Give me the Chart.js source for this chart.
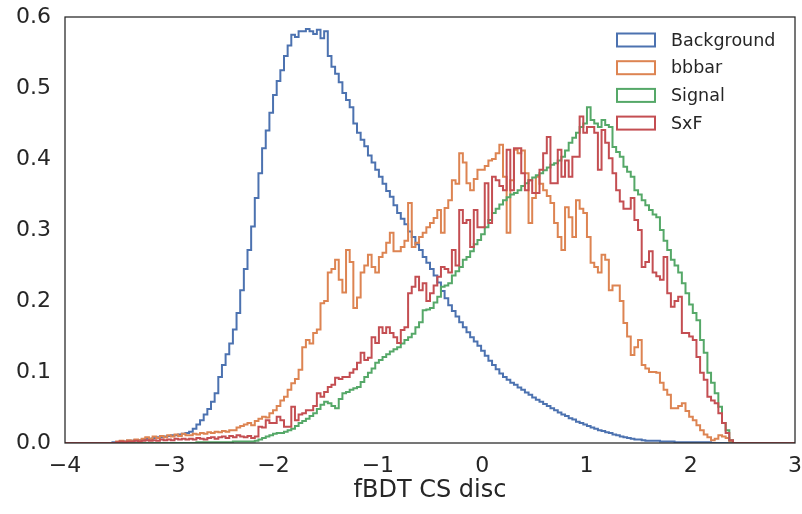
<!DOCTYPE html>
<html><head><meta charset="utf-8">
<script src="https://cdn.jsdelivr.net/npm/chart.js@4.4.0/dist/chart.umd.min.js"></script>
<style>html,body{margin:0;padding:0;background:#fff}#wrap{width:802px;height:514px;position:relative}</style>
</head><body><div id="wrap"><canvas id="c"></canvas></div>
<script>
// Histogram binning (x range and number of bins)
const X_MIN = -4, X_MAX = 3, N_BINS = 200;
const xTicks = [-4, -3, -2, -1, 0, 1, 2, 3];
const yTicks = [0, 0.1, 0.2, 0.3, 0.4, 0.5, 0.6];
const xTitle = 'fBDT CS disc';
const seriesNames = ['Background', 'bbbar', 'Signal', 'SxF'];
const seriesColors = ['#4C72B0', '#DD8452', '#55A868', '#C44E52'];

const background = [
0,0,0,0,0,0,0,0,0,0,
0,0,0,0.001,0.001,0.002,0.002,0.003,0.003,0.004,
0.004,0.005,0.006,0.006,0.007,0.008,0.008,0.009,0.010,0.011,
0.011,0.012,0.013,0.014,0.016,0.020,0.026,0.032,0.040,0.048,
0.058,0.070,0.093,0.110,0.125,0.140,0.160,0.183,0.215,0.245,
0.272,0.305,0.345,0.380,0.415,0.440,0.465,0.490,0.510,0.525,
0.545,0.560,0.575,0.572,0.580,0.580,0.583,0.580,0.576,0.582,
0.570,0.580,0.545,0.530,0.520,0.508,0.493,0.483,0.473,0.450,
0.437,0.427,0.418,0.405,0.395,0.385,0.375,0.365,0.355,0.347,
0.335,0.324,0.316,0.308,0.298,0.290,0.280,0.272,0.262,0.254,
0.245,0.236,0.226,0.214,0.204,0.194,0.186,0.178,0.170,0.163,
0.156,0.149,0.143,0.137,0.130,0.123,0.116,0.110,0.104,0.098,
0.093,0.089,0.085,0.082,0.078,0.075,0.071,0.068,0.064,0.061,
0.058,0.055,0.052,0.049,0.046,0.043,0.040,0.038,0.035,0.033,
0.030,0.028,0.026,0.024,0.022,0.020,0.018,0.017,0.015,0.014,
0.012,0.011,0.009,0.008,0.007,0.006,0.005,0.005,0.004,0.003,
0.003,0.003,0.003,0.002,0.002,0.002,0.002,0.001,0.001,0.001,
0.001,0.001,0.001,0.001,0.001,0.001,0.001,0,0,0,
0,0,0,0,0,0,0,0,0,0,
0,0,0,0,0,0,0,0,0,0
];
const bbbar = [
0,0,0,0,0,0,0,0,0,0,
0,0,0,0,0.002,0.003,0.002,0.004,0.003,0.005,
0.004,0.006,0.008,0.006,0.009,0.007,0.010,0.008,0.011,0.009,
0.012,0.010,0.013,0.011,0.011,0.013,0.012,0.014,0.013,0.015,
0.014,0.016,0.015,0.017,0.016,0.018,0.018,0.022,0.024,0.026,
0.028,0.025,0.031,0.034,0.037,0.036,0.042,0.046,0.052,0.060,
0.065,0.075,0.084,0.090,0.103,0.135,0.145,0.140,0.155,0.160,
0.197,0.200,0.240,0.245,0.258,0.230,0.212,0.272,0.255,0.190,
0.205,0.240,0.250,0.265,0.248,0.240,0.262,0.268,0.282,0.296,
0.270,0.270,0.276,0.285,0.338,0.276,0.282,0.290,0.296,0.304,
0.310,0.317,0.328,0.296,0.331,0.342,0.370,0.365,0.408,0.395,
0.366,0.356,0.372,0.385,0.385,0.390,0.398,0.400,0.408,0.420,
0.375,0.296,0.370,0.413,0.408,0.412,0.380,0.310,0.345,0.375,
0.365,0.356,0.348,0.338,0.310,0.290,0.272,0.332,0.318,0.290,
0.342,0.330,0.324,0.290,0.254,0.248,0.240,0.265,0.258,0.215,
0.222,0.222,0.200,0.169,0.150,0.124,0.135,0.145,0.110,0.105,
0.100,0.100,0.099,0.085,0.075,0.068,0.049,0.049,0.052,0.056,
0.045,0.037,0.032,0.025,0.018,0.012,0.008,0.004,0.006,0.011,
0.009,0.007,0.002,0,0,0,0,0,0,0,
0,0,0,0,0,0,0,0,0,0
];
const signal = [
0,0,0,0,0,0,0,0,0,0,
0,0,0,0,0,0,0,0,0,0,
0,0,0,0,0,0,0,0,0,0,
0,0,0,0,0,0,0.001,0.001,0.001,0.001,
0.001,0.001,0.001,0.001,0.001,0.001,0.002,0.002,0.002,0.002,
0.002,0.002,0.003,0.005,0.007,0.009,0.011,0.013,0.014,0.014,
0.016,0.018,0.020,0.024,0.028,0.031,0.034,0.038,0.042,0.048,
0.054,0.058,0.056,0.052,0.049,0.062,0.070,0.072,0.075,0.077,
0.079,0.086,0.093,0.099,0.105,0.113,0.117,0.121,0.125,0.129,
0.132,0.135,0.140,0.145,0.149,0.154,0.163,0.170,0.187,0.188,
0.190,0.198,0.206,0.220,0.222,0.225,0.236,0.242,0.248,0.258,
0.262,0.270,0.280,0.286,0.294,0.304,0.314,0.324,0.330,0.336,
0.342,0.346,0.350,0.352,0.356,0.362,0.366,0.370,0.374,0.377,
0.380,0.384,0.388,0.392,0.394,0.398,0.403,0.412,0.423,0.430,
0.437,0.445,0.450,0.473,0.455,0.450,0.445,0.455,0.448,0.445,
0.417,0.410,0.403,0.389,0.382,0.375,0.356,0.350,0.342,0.335,
0.328,0.322,0.318,0.300,0.285,0.272,0.258,0.250,0.240,0.225,
0.211,0.195,0.183,0.173,0.145,0.127,0.099,0.085,0.070,0.051,
0.028,0.018,0.004,0,0,0,0,0,0,0,
0,0,0,0,0,0,0,0,0,0
];
const sxf = [
0,0,0,0,0,0,0,0,0,0,
0,0,0,0,0.001,0.002,0.001,0.002,0.002,0.003,
0.002,0.003,0.004,0.003,0.004,0.003,0.005,0.004,0.005,0.004,
0.006,0.005,0.006,0.005,0.006,0.005,0.007,0.006,0.005,0.007,
0.008,0.006,0.008,0.009,0.007,0.010,0.008,0.011,0.009,0.008,
0.010,0.007,0.009,0.023,0.022,0.032,0.028,0.028,0.037,0.032,
0.023,0.023,0.051,0.032,0.040,0.042,0.046,0.046,0.052,0.070,
0.065,0.072,0.079,0.082,0.092,0.090,0.093,0.093,0.099,0.104,
0.113,0.127,0.117,0.120,0.149,0.141,0.163,0.155,0.163,0.155,
0.149,0.141,0.159,0.163,0.211,0.220,0.234,0.215,0.225,0.200,
0.211,0.222,0.234,0.248,0.245,0.240,0.272,0.250,0.328,0.310,
0.314,0.276,0.328,0.304,0.304,0.366,0.310,0.375,0.370,0.362,
0.356,0.413,0.356,0.415,0.415,0.380,0.356,0.370,0.352,0.352,
0.385,0.408,0.431,0.366,0.366,0.413,0.375,0.398,0.375,0.403,
0.403,0.460,0.437,0.445,0.445,0.437,0.385,0.441,0.423,0.401,
0.380,0.356,0.340,0.330,0.330,0.345,0.314,0.300,0.248,0.255,
0.270,0.240,0.235,0.230,0.262,0.211,0.192,0.200,0.206,0.155,
0.155,0.150,0.145,0.121,0.099,0.089,0.065,0.060,0.056,0.042,
0.028,0.014,0.004,0,0,0,0,0,0,0,
0,0,0,0,0,0,0,0,0,0
];
const seriesValues = [background, bbbar, signal, sxf];

// bin left edges
const binWidth = (X_MAX - X_MIN) / N_BINS;
const edges = Array.from({length: N_BINS + 1}, (_, i) => X_MIN + i * binWidth);

function stepPoints(vals) {
  const pts = vals.map((v, i) => ({x: edges[i], y: v}));
  pts.push({x: X_MAX, y: 0});
  return pts;
}

const FONT = "'DejaVu Sans', sans-serif";
const TEXT = '#262626';

const frame = {
  id: 'frame',
  afterDatasetsDraw(chart) {
    const a = chart.chartArea, ctx = chart.ctx;
    ctx.save();
    ctx.strokeStyle = '#262626';
    ctx.lineWidth = 1.25;
    ctx.strokeRect(a.left, a.top, a.right - a.left, a.bottom - a.top);
    ctx.restore();
  }
};
const legendBox = {
  id: 'legendBox',
  afterDraw(chart) {
    const ctx = chart.ctx;
    ctx.save();
    ctx.font = '17.5px ' + FONT;
    ctx.textBaseline = 'middle';
    ctx.fillStyle = TEXT;
    seriesNames.forEach((n, i) => {
      const y = 40 + i * 27.7;
      ctx.strokeStyle = seriesColors[i];
      ctx.lineWidth = 2;
      ctx.strokeRect(617, y - 6.5, 38, 13);
      ctx.fillStyle = TEXT;
      ctx.fillText(n, 671, y + 1);
    });
    ctx.restore();
  }
};

const datasets = seriesNames.map((n, i) => ({
  label: n,
  data: stepPoints(seriesValues[i]),
  borderColor: seriesColors[i],
  backgroundColor: seriesColors[i],
  borderWidth: 2,
  pointRadius: 0,
  stepped: 'before',
  fill: false,
  order: seriesNames.length - i
}));

new Chart(document.getElementById('c'), {
  type: 'line',
  data: {datasets},
  options: {
    responsive: true,
    maintainAspectRatio: false,
    animation: false,
    layout: {padding: 0},
    plugins: {legend: {display: false}, tooltip: {enabled: false}},
    scales: {
      x: {
        type: 'linear', min: X_MIN, max: X_MAX,
        grid: {display: false, drawTicks: false},
        border: {display: false},
        afterBuildTicks: s => { s.ticks = xTicks.map(v => ({value: v})); },
        afterFit: s => { s.height = 71; s.paddingLeft = 0; s.paddingRight = 7; },
        ticks: {
          padding: 10, color: TEXT, font: {family: FONT, size: 22},
          maxRotation: 0, autoSkip: false,
          callback: v => String(v).replace('-', '\u2212')
        },
        title: {display: true, text: xTitle, color: TEXT, font: {family: FONT, size: 24}, padding: {top: 4, bottom: 9}}
      },
      y: {
        min: 0, max: 0.6,
        grid: {display: false, drawTicks: false},
        border: {display: false},
        afterBuildTicks: s => { s.ticks = yTicks.map(v => ({value: v})); },
        afterFit: s => { s.width = 65; s.paddingTop = 17; s.paddingBottom = 0; },
        ticks: {
          padding: 14, color: TEXT, font: {family: FONT, size: 22},
          autoSkip: false,
          callback: v => Number(v).toFixed(1)
        }
      }
    }
  },
  plugins: [frame, legendBox]
});
</script>
</body></html>
